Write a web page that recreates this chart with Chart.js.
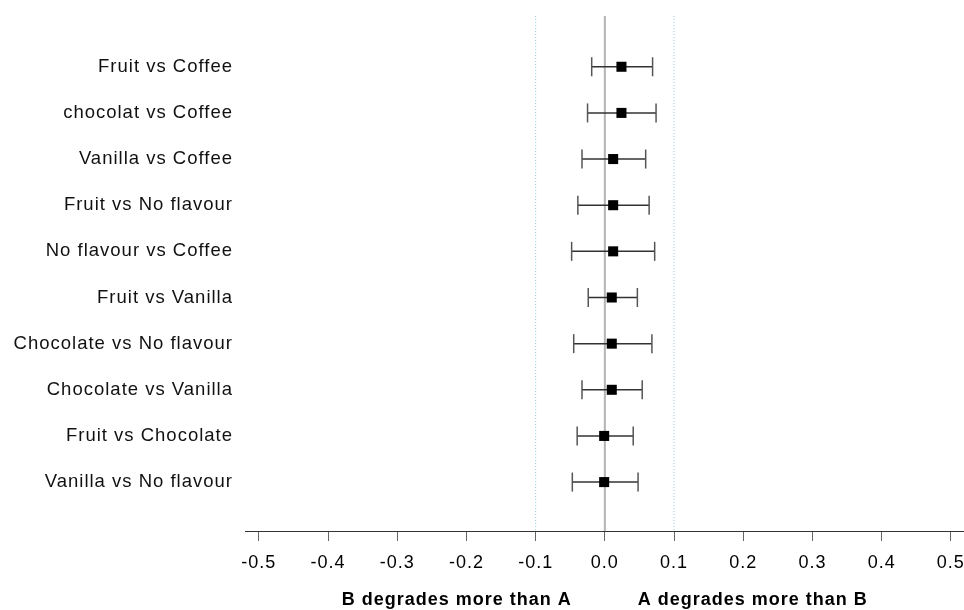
<!DOCTYPE html>
<html>
<head>
<meta charset="utf-8">
<script src="https://cdn.jsdelivr.net/npm/chart.js@4/dist/chart.umd.min.js"></script>
<style>
  body { margin: 0; background: #fff; }
  #wrap { width: 964px; height: 610px; }
</style>
</head>
<body>
<div id="wrap"><canvas id="forest"></canvas></div>
<script>
var categories = ['Fruit vs Coffee', 'chocolat vs Coffee', 'Vanilla vs Coffee', 'Fruit vs No flavour',
    'No flavour vs Coffee', 'Fruit vs Vanilla', 'Chocolate vs No flavour', 'Chocolate vs Vanilla',
    'Fruit vs Chocolate', 'Vanilla vs No flavour'];
var estimates = [0.024, 0.024, 0.012, 0.012, 0.012, 0.010, 0.010, 0.010, -0.001, -0.001];
var lower = [-0.019, -0.025, -0.033, -0.039, -0.048, -0.024, -0.045, -0.033, -0.040, -0.047];
var upper = [0.069, 0.074, 0.059, 0.064, 0.072, 0.047, 0.068, 0.054, 0.041, 0.048];
var xTicks = [-0.5, -0.4, -0.3, -0.2, -0.1, 0.0, 0.1, 0.2, 0.3, 0.4, 0.5];
var refLines = [-0.1, 0.0, 0.1];
var sideLabels = ['B degrades more than A', 'A degrades more than B'];

var yMin = -1.1, yMax = 10.06;

var datasets = [];

// reference lines (zero + dotted +/-0.1)
refLines.forEach(function(v){
    datasets.push({
        type: 'line',
        data: [{x: v, y: yMin}, {x: v, y: yMax}],
        borderColor: v === 0 ? '#b4b4b4' : '#96cce4',
        borderWidth: v === 0 ? 2 : 1,
        borderDash: v === 0 ? [] : [1, 2],
        pointRadius: 0,
        order: 5
    });
});

// whiskers
categories.forEach(function(c, i){
    datasets.push({
        type: 'line',
        data: [{x: lower[i], y: i}, {x: upper[i], y: i}],
        borderColor: '#333',
        borderWidth: 1.5,
        pointRadius: 0,
        order: 3
    });
});

// caps
var caps = [];
categories.forEach(function(c, i){
    caps.push({x: lower[i], y: i});
    caps.push({x: upper[i], y: i});
});
datasets.push({
    type: 'scatter',
    data: caps,
    pointStyle: 'line',
    rotation: 90,
    pointRadius: 9.5,
    borderColor: '#555',
    borderWidth: 1.5,
    order: 2
});

// point estimates
datasets.push({
    type: 'scatter',
    data: estimates.map(function(v, i){ return {x: v, y: i}; }),
    pointStyle: 'rect',
    pointRadius: 7.1,
    backgroundColor: '#000',
    borderColor: '#000',
    borderWidth: 0,
    order: 1
});

var spacing = {
    id: 'spacing',
    beforeUpdate: function(chart){ chart.ctx.letterSpacing = '1px'; },
    beforeDraw: function(chart){ chart.ctx.letterSpacing = '1px'; }
};

var sideText = {
    id: 'sideText',
    afterDraw: function(chart){
        var ctx = chart.ctx, x = chart.scales.x;
        var zero = x.getPixelForValue(0);
        ctx.save();
        ctx.letterSpacing = '1px';
        ctx.font = 'bold 18px "Liberation Sans", Arial, sans-serif';
        ctx.fillStyle = '#000';
        ctx.textAlign = 'center';
        ctx.textBaseline = 'middle';
        ctx.fillText(sideLabels[0], zero - 148, chart.chartArea.bottom + 69);
        ctx.fillText(sideLabels[1], zero + 148, chart.chartArea.bottom + 69);
        ctx.restore();
    }
};

var chart = new Chart(document.getElementById('forest'), {
    type: 'scatter',
    data: { datasets: datasets },
    plugins: [spacing, sideText],
    options: {
        responsive: true,
        maintainAspectRatio: false,
        animation: false,
        layout: { autoPadding: false, padding: { top: 16, left: 0, right: 0, bottom: 0 } },
        plugins: { legend: { display: false }, tooltip: { enabled: false } },
        scales: {
            x: {
                type: 'linear',
                min: -0.52,
                max: 0.519,
                afterBuildTicks: function(s){ s.ticks = xTicks.map(function(v){ return {value: v}; }); },
                afterFit: function(s){ s.height = 79; s.paddingLeft = 0; s.paddingRight = 0; },
                grid: { drawOnChartArea: false, drawTicks: true, tickLength: 10, tickColor: '#666', tickWidth: 1 },
                border: { display: true, color: '#333', width: 1 },
                ticks: {
                    padding: 11,
                    color: '#000',
                    font: { family: '"Liberation Sans", Arial, sans-serif', size: 18 },
                    maxRotation: 0,
                    autoSkip: false,
                    callback: function(v){ return Number(v).toFixed(1); }
                }
            },
            y: {
                type: 'linear',
                reverse: true,
                min: yMin,
                max: yMax,
                afterBuildTicks: function(s){ s.ticks = categories.map(function(c, i){ return {value: i}; }); },
                afterFit: function(s){ s.width = 245; s.paddingTop = 0; s.paddingBottom = 0; },
                grid: { display: false, drawTicks: false },
                border: { display: false },
                ticks: {
                    padding: 12,
                    color: '#111',
                    font: { family: '"Liberation Sans", Arial, sans-serif', size: 18.5 },
                    callback: function(v){ return categories[v]; }
                }
            }
        }
    }
});
</script>
</body>
</html>
